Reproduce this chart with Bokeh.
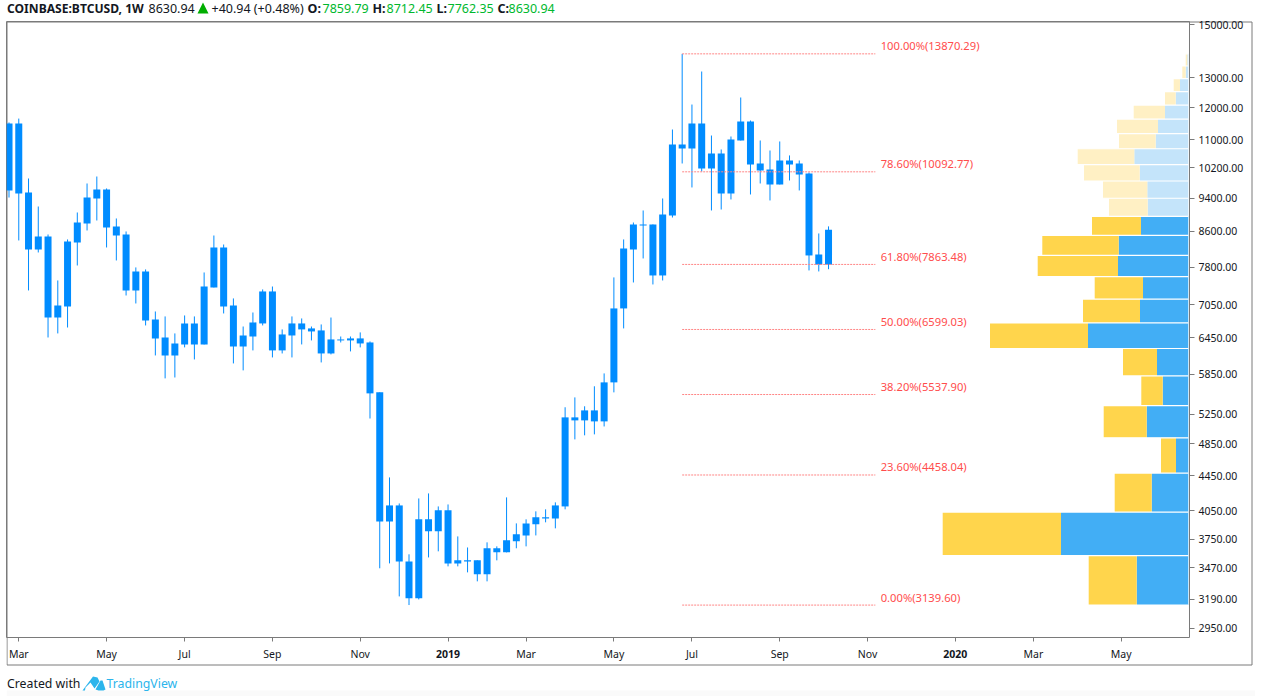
from bokeh.plotting import figure
from bokeh.layouts import column
from bokeh.models import Range1d, FixedTicker, PrintfTickFormatter, LinearAxis, InlineStyleSheet
from bokeh.embed import file_html
from bokeh.resources import INLINE
from bokeh.core.properties import value

# weekly COINBASE:BTCUSD candles, Feb 2018 - Oct 2019
opens = [9598,11496,9546,8187,8479,6815,7020,8343,8780,9393,9624,8710,8524,7331,7716,6780,6458,6153,6338,6707,6338,7390,8231,7040,6303,6475,6707,7311,6237,6493,6707,6618,6582,6186,6424,6407,6442,6372,5570,3934,4107,3532,3197,3956,3830,4053,3513,3542,3542,3411,3659,3619,3728,3788,3903,3977,3966,4096,5207,5165,5306,5151,5722,6984,8187,8758,8758,7633,8971,10747,10747,11496,10183,10604,9520,10982,11559,10322,10156,9755,10406,10322,10048,8078,7859.79]
highs = [11528,11650,9913,9192,8524,7531,8411,9045,9780,9966,9650,8900,8594,7800,7758,6927,6835,6529,6853,6835,7695,8501,8297,7175,6652,6908,7351,7409,6600,6835,6798,6652,6689,6815,6475,6475,6547,6390,5570,4429,4129,3600,4185,4242,4096,4118,3778,3667,3542,3718,3678,4197,3913,3956,4042,4064,4141,5351,5495,5365,5662,5862,7593,8411,8804,9094,8758,9393,11312,13870,12100,13226,11130,10719,11101,12331,11590,10982,10690,10953,10548,10406,10075,8548,8712.45]
lows = [9417,8388,7331,8121,6458,6529,6634,7841,8617,8852,8231,7948,7232,7078,6671,6153,5784,5798,6288,6087,6338,7390,6890,6022,5910,6237,6671,6120,6186,6120,6338,6407,6038,6170,6372,6220,6288,5191,3467,3513,3214,3140,3188,3570,3629,3485,3485,3429,3347,3347,3542,3619,3659,3678,3788,3924,3861,4064,4907,4961,4974,5081,5570,6618,7490,7991,7450,7531,8923,10322,9676,10102,9094,9118,9368,10982,9495,9780,9343,9755,9860,9598,7737,7716,7762.35]
closes = [11496,9520,8187,8479,6815,7040,8365,8804,9417,9624,8687,8501,7331,7716,6762,6442,6153,6355,6707,6338,7409,8231,7020,6303,6493,6726,7311,6237,6511,6707,6600,6564,6186,6424,6407,6442,6355,5555,3934,4107,3532,3197,3956,3830,4053,3513,3542,3532,3411,3659,3619,3738,3799,3913,3977,3966,4107,5207,5165,5306,5151,5722,6984,8209,8758,8734,7633,8996,10863,10863,11496,10183,10604,9520,11012,11559,10294,10129,9755,10406,10294,10021,8056,7860,8630.94]
weeks = list(range(len(closes)))

# axis ticks
price_ticks = [15000,13000,12000,11000,10200,9400,8600,7800,7050,6450,5850,5250,4850,4450,4050,3750,3470,3190,2950]
month_weeks = [1,10,18,27,36,53,62,70,79,88,105,114]
month_labels = ["Mar","May","Jul","Sep","Nov","Mar","May","Jul","Sep","Nov","Mar","May"]
year_weeks = [45,97]
year_labels = ["2019","2020"]

# Fibonacci retracement
fib_prices = [13870.29,10092.77,7863.48,6599.03,5537.90,4458.04,3139.60]
fib_labels = ["100.00%(13870.29)","78.60%(10092.77)","61.80%(7863.48)","50.00%(6599.03)","38.20%(5537.90)","23.60%(4458.04)","0.00%(3139.60)"]
fib_start_week = 69
fib_end_week = 88.8
fib_label_week = 89.35

# volume profile, bottom band to top band
band_edges = [3140,3587,4034,4481,4928,5375,5822,6269,6716,7163,7611,8058,8505,8952,9399,9846,10293,10740,11187,11634,12081,12529,12976,13423,13870]
vol_up = [51.6,127.3,36.6,12.3,41.6,25.6,31.3,100.3,48.3,45.3,70.3,69.6,47.3,40.6,41,48.6,54,32.6,30.3,23.3,12.6,8.3,2.6,1]
vol_down = [48,118.3,37,15,43,21.4,34,98,57,48.3,80.3,76.4,49,38.7,44.3,55.7,56.6,36.7,41,31.3,10.7,6.3,3.4,1.6]
value_area_bands = 13

BLUE = "#008CFF"
GREY = "#7A7A7A"
TXT = "#131722"
FONT = "Noto Sans"
GREEN = "#00B82E"
RED = "#FF4C4C"
LOGO = "#2CB5EC"

# backdrop page: header, footer and outer panel border, in page pixels
# (the column lines this frame up with the chart's frame, 6 px from the page's left edge)
bg = figure(frame_width=1255, frame_height=696, output_backend="svg", toolbar_location=None, tools="",
            x_range=Range1d(6, 1261), y_range=Range1d(696, 0), x_axis_type=None, y_axis_type=None,
            min_border_left=0, min_border_right=0, min_border_top=0, min_border_bottom=0, outline_line_color=None)
bg.grid.visible = False
bg.quad(left=[6], right=[1261], top=[690], bottom=[696], fill_color="#FAFAFA", line_color=None)
bg.line(x=[6.5, 1251.5, 1251.5, 6.5, 6.5], y=[21.5, 21.5, 664.5, 664.5, 21.5], line_color=GREY, line_width=1)


def lab(text, x, y, color=TXT, size="12.5px", style="normal"):
    bg.text(x=[x], y=[y], text=[text], text_align="left", text_baseline="middle", text_font=value(FONT),
            text_font_size=size, text_font_style=style, text_color=color)


lab("COINBASE:BTCUSD, 1W", 6.5, 8, style="bold", size="12.1px")
lab("8630.94", 148, 8)
bg.patch(x=[197, 202.5, 208], y=[13, 2, 13], fill_color="#00AE00", line_color=None)
lab("+40.94 (+0.48%)", 211, 8)
for t, x, v, xv in (("O:", 307, "7859.79", 322), ("H:", 372, "8712.45", 386), ("L:", 436, "7762.35", 447), ("C:", 497, "8630.94", 508)):
    lab(t, x, 8, style="bold")
    lab(v, xv, 8, color=GREEN)
lab("Created with", 6.5, 683, size="12.3px")
lab("TradingView", 106, 683, color=LOGO, size="12.3px")
for xs, ys in (([82, 88, 92.5, 97, 99, 94, 90, 85, 84.5], [690, 682, 676, 677, 681, 688, 682, 687, 690]),
               ([95, 100, 102, 105, 103, 98], [689, 680, 680, 689, 690, 690])):
    bg.patch(x=xs, y=ys, fill_color=LOGO, line_color=None)

# chart
p = figure(width=1261, height=696, output_backend="svg", toolbar_location=None,
           x_range=Range1d(-0.2575, 121.0), y_range=Range1d(2877, 15134), y_axis_type="log",
           y_axis_location="right", min_border_left=6, min_border_right=72,
           min_border_top=21, min_border_bottom=59, tools="",
           background_fill_color=None, border_fill_color=None)
p.margin = (-696, 0, 0, 0)
p.extra_x_ranges["vol"] = Range1d(1181.8, -1.2)
p.grid.visible = False
p.outline_line_color = GREY
p.outline_line_width = 1
p.stylesheets = [InlineStyleSheet(css="svg path { shape-rendering: crispEdges; }")]

ya = p.yaxis[0]
ya.ticker = FixedTicker(ticks=price_ticks)
ya.formatter = PrintfTickFormatter(format="%.2f")
ya.axis_line_color = None
ya.major_tick_line_color = GREY
ya.major_tick_in = 0
ya.major_tick_out = 5
ya.minor_tick_line_color = None
ya.major_label_standoff = 4
ya.major_label_text_font = FONT
ya.major_label_text_font_size = "10.5px"
ya.major_label_text_color = TXT

xa = p.xaxis[0]
xa.ticker = FixedTicker(ticks=month_weeks + year_weeks)
xa.major_label_overrides = {**dict(zip(month_weeks, month_labels)), **{w: " " for w in year_weeks}}
xa.axis_line_color = None
xa.major_tick_line_color = GREY
xa.major_tick_in = 0
xa.major_tick_out = 4
xa.minor_tick_line_color = None
xa.major_label_standoff = 5
xa.major_label_text_font = FONT
xa.major_label_text_font_size = "10.5px"
xa.major_label_text_color = TXT

ya2 = LinearAxis(ticker=FixedTicker(ticks=year_weeks), major_label_overrides=dict(zip(year_weeks, year_labels)),
                 axis_line_color=None, major_tick_line_color=None, minor_tick_line_color=None,
                 major_tick_in=0, major_tick_out=0, major_label_standoff=-14, major_label_text_font=FONT,
                 major_label_text_font_size="10.5px", major_label_text_font_style="bold", major_label_text_color=TXT)
p.add_layout(ya2, "below")

# volume profile
full = [i for i in range(len(vol_up)) if i < value_area_bands]
light = [i for i in range(len(vol_up)) if i >= value_area_bands]
for idx, cb, cy in ((full, "#42AEF5", "#FFD54C"), (light, "#C4E4FA", "#FFF0C4")):
    bot = [band_edges[i] for i in idx]
    top = [band_edges[i + 1] for i in idx]
    up = [vol_up[i] for i in idx]
    tot = [vol_up[i] + vol_down[i] for i in idx]
    p.quad(left=[0] * len(idx), right=up, bottom=bot, top=top, fill_color=cb, line_color=None, x_range_name="vol")
    p.quad(left=up, right=tot, bottom=bot, top=top, fill_color=cy, line_color=None, x_range_name="vol")
max_vol = max(u + d for u, d in zip(vol_up, vol_down))
p.segment(x0=[0] * len(band_edges), x1=[max_vol + 2] * len(band_edges), y0=band_edges, y1=band_edges,
          line_color="white", line_width=1.2, x_range_name="vol")

# candles
p.segment(x0=weeks, x1=weeks, y0=lows, y1=highs, line_color=BLUE, line_width=1)
p.vbar(x=weeks, width=0.7175, bottom=[min(o, c) for o, c in zip(opens, closes)],
       top=[max(o, c) for o, c in zip(opens, closes)], fill_color=BLUE, line_color=None)

# fibonacci
n = len(fib_prices)
p.segment(x0=[fib_start_week] * n, x1=[fib_end_week] * n, y0=fib_prices, y1=fib_prices,
          line_color="#FF8585", line_width=1, line_dash="2 1")
p.text(x=[fib_label_week] * n, y=fib_prices, text=fib_labels, text_font=value(FONT), text_font_size="11.2px",
       text_color=RED, text_align="left", text_baseline="middle", y_offset=-8)

open("out.html", "w").write(file_html(column(bg, p), INLINE))
